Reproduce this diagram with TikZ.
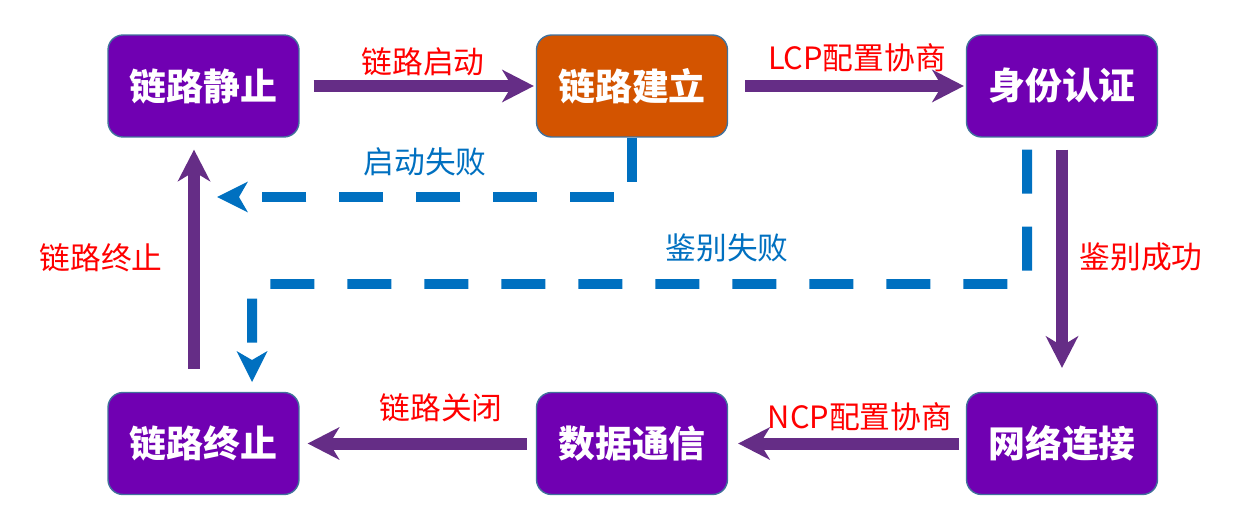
\documentclass[tikz,border=0pt]{standalone}
\usepackage{xcolor}
\usepackage{fontspec}
\setmainfont{Noto Sans CJK SC}
\usepackage{tikz}
\definecolor{boxpurple}{RGB}{112, 0, 178}
\definecolor{boxorange}{RGB}{211, 84, 0}
\definecolor{boxedge}{RGB}{65, 113, 156}
\definecolor{flowpurple}{RGB}{101, 45, 134}
\definecolor{failblue}{RGB}{0, 112, 192}
\usetikzlibrary{arrows.meta, positioning, calc}

\begin{document}
\begin{tikzpicture}[x=0.02cm, y=-0.02cm,
    statebox/.style={rectangle, draw=boxedge, line width=0.8pt, fill=boxpurple, rounded corners=0.3cm, minimum width=3.82cm, minimum height=2.04cm, text=white, font=\fontsize{21}{24}\selectfont\bfseries},
    flow/.style={draw=flowpurple, line width=0.24cm, -{Stealth[length=0.64cm, width=0.66cm, inset=0.2cm, line width=0pt]}},
    fail/.style={draw=failblue, line width=0.2cm, dash pattern=on 0.88cm off 0.66cm, -{Stealth[length=0.62cm, width=0.62cm, inset=0.18cm, line width=0pt]}},
    redlbl/.style={text=red, font=\fontsize{17.5}{20}\selectfont},
    bluelbl/.style={text=failblue, font=\fontsize{17.5}{20}\selectfont}
]
    \useasboundingbox (0,0) rectangle (1254,530);

    % states
    \node[statebox] (s1) at (203.5, 86) {链路静止};
    \node[statebox, fill=boxorange] (s2) at (632, 86) {链路建立};
    \node[statebox] (s3) at (1062, 86) {身份认证};
    \node[statebox] (s4) at (203.5, 443.5) {链路终止};
    \node[statebox] (s5) at (632, 443.5) {数据通信};
    \node[statebox] (s6) at (1062, 443.5) {网络连接};

    % normal flow
    \draw[flow, shorten <=0.28cm, shorten >=0.04cm] (s1) -- (s2);
    \draw[flow, shorten <=0.34cm, shorten >=0.04cm] (s2) -- (s3);
    \draw[flow, shorten <=0.24cm, shorten >=0.48cm] (s3) -- (s6);
    \draw[flow, shorten <=0.14cm, shorten >=0.2cm] (s6) -- (s5);
    \draw[flow, shorten <=0.18cm, shorten >=0.16cm] (s5) -- (s4);
    \draw[flow, shorten <=0.46cm, shorten >=0.24cm] ([xshift=-0.19cm]s4.north) -- ([xshift=-0.19cm]s1.south);

    % failures
    \coordinate (failA) at (217, 197);
    \draw[fail] (s2.south) -- (s2.south |- failA) -- (failA);
    \coordinate (turnB) at (1027, 284);
    \coordinate (failB) at (252, 382);
    \draw[fail, shorten <=0.24cm] ([xshift=-0.7cm]s3.south) -- (turnB) -- (turnB -| failB) -- (failB);

    % labels
    \node[redlbl] (lstart) at (423, 62) {链路启动};
    \node[redlbl] (llcp) at (857, 58) {LCP配置协商};
    \node[redlbl] (lauth) at (1141, 257) {鉴别成功};
    \node[redlbl] (lncp) at (860, 417) {NCP配置协商};
    \node[redlbl] (lclose) at (441, 408) {链路关闭};
    \node[redlbl] (lend) at (101, 258) {链路终止};
    \node[bluelbl] (lfailA) at (425, 162) {启动失败};
    \node[bluelbl] (lfailB) at (727, 248) {鉴别失败};
\end{tikzpicture}
\end{document}
